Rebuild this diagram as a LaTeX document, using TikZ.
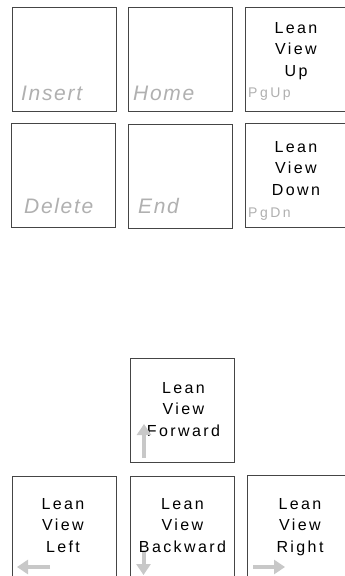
\documentclass[tikz,border=0pt]{standalone}
\usepackage{fontspec}
\setmainfont{Liberation Sans}
\newfontfamily\keyfont[LetterSpace=15]{Liberation Sans}
\newfontfamily\grayfont[LetterSpace=8]{Liberation Sans}
\newfontfamily\tagfont[LetterSpace=18]{Liberation Sans}
\usetikzlibrary{arrows.meta}
\definecolor{keyline}{HTML}{454545}
\definecolor{labelgray}{HTML}{B0B0B0}
\definecolor{arrowgray}{HTML}{C8C8C8}
\tikzset{
  keybox/.style={draw=keyline, line width=1pt, fill=white, minimum width=104pt, minimum height=104pt, inner sep=0pt},
  keytext/.style={anchor=base, align=center, inner sep=0pt, font=\keyfont\fontsize{16}{21.5}\selectfont},
  bigtag/.style={anchor=base west, inner sep=0pt, text=labelgray, font=\grayfont\itshape\fontsize{21}{22}\selectfont},
  smalltag/.style={anchor=base west, inner sep=0pt, text=labelgray, font=\tagfont\fontsize{14}{16}\selectfont},
  dirarrow/.style={draw=arrowgray, line width=4pt, -{Triangle[width=14pt,length=11pt]}}
}
\begin{document}
\begin{tikzpicture}[x=1pt,y=-1pt]
\useasboundingbox (0,0) rectangle (345,576);
\clip (0,0) rectangle (345,576);
% top block
\node[keybox] (ins) at (64,59) {};
\node[keybox] (home) at (180.5,59) {};
\node[keybox] (pgup) at (297,59) {};
\node[keybox] (del) at (63.5,175) {};
\node[keybox] (end) at (180,176) {};
\node[keybox] (pgdn) at (297,175) {};
\node[bigtag] (insl) at (21,100) {Insert};
\node[bigtag] (homel) at (133,100) {Home};
\node[bigtag] (dell) at (24,213) {Delete};
\node[bigtag] (endl) at (138,213) {End};
\node[keytext] (upt) at (296,76) {Lean\\View\\Up};
\node[smalltag] (pgupl) at (248,97) {PgUp};
\node[keytext] (downt) at (296,195) {Lean\\View\\Down};
\node[smalltag] (pgdnl) at (248,217) {PgDn};
% bottom block
\node[keybox] (fwd) at (182.5,410) {};
\node[keybox] (left) at (64,528) {};
\node[keybox] (back) at (182.5,528) {};
\node[keybox] (right) at (299,527) {};
\node[keytext] (fwdt) at (183.5,436) {Lean\\View\\Forward};
\node[keytext] (leftt) at (63,552) {Lean\\View\\Left};
\node[keytext] (backt) at (182.5,552) {Lean\\View\\Backward};
\node[keytext] (rightt) at (300,552) {Lean\\View\\Right};
% arrows
\coordinate (fa) at (144,458); \coordinate (fb) at (144,424);
\coordinate (la) at (50,567); \coordinate (lb) at (17,567);
\coordinate (ba) at (143.5,552); \coordinate (bb) at (143.5,575);
\coordinate (ra) at (253,567); \coordinate (rb) at (285,567);
\draw[dirarrow] (fa) -- (fb);
\draw[dirarrow] (la) -- (lb);
\draw[dirarrow] (ba) -- (bb);
\draw[dirarrow] (ra) -- (rb);
\end{tikzpicture}
\end{document}
